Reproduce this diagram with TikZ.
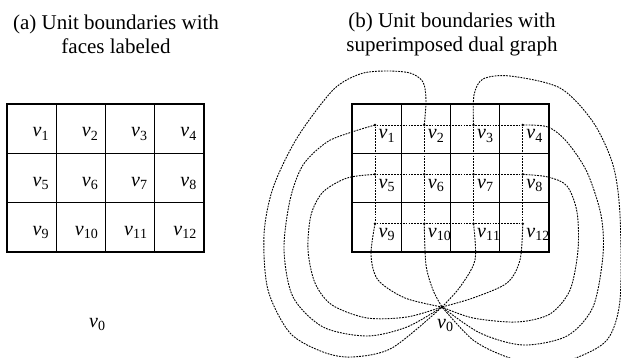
\documentclass[tikz,border=0pt]{standalone}
\usepackage{fontspec}
\setmainfont{Liberation Serif}
\usetikzlibrary{calc}

\newcommand{\vlab}[1]{\textit{v}$_{\mathrm{#1}}$}

\begin{document}
\begin{tikzpicture}[x=1pt,y=-1pt]

    \tikzstyle{cell}=[draw, rectangle, line width=1.4pt, minimum width=49.25pt, minimum height=49.33pt, inner sep=0pt, outer sep=0pt]
    \tikzstyle{lab}=[inner sep=0pt, font=\fontsize{20}{24}\selectfont]
    \tikzstyle{title}=[align=center, inner sep=0pt, font=\fontsize{21}{24}\selectfont]
    \tikzstyle{dual}=[line width=0.9pt, dash pattern=on 1.8pt off 1.1pt]
    \tikzstyle{dot}=[circle, fill=black, inner sep=0pt, minimum size=2.8pt]

    \useasboundingbox (0,0) rectangle (621,358);

    % Spacing the cells out
    \def \cw {49.25}
    \def \ch {49.33}

    % Titles
    \node at (116,34) [title] (ta) {(a) Unit boundaries with\\faces labeled};
    \node at (452,34) [title] (tb) {(b) Unit boundaries with\\superimposed dual graph};

    % Unit boundaries
    \foreach \r in {0,1,2}
        \foreach \c in {1,...,4} {
            \pgfmathtruncatemacro{\n}{4*\r+\c}
            \node at ({7+(\c-0.5)*\cw}, {104+(\r+0.5)*\ch})   [cell] (a\n) {};
            \node at ({352+(\c-0.5)*\cw}, {104+(\r+0.5)*\ch}) [cell] (b\n) {};
        }

    % Faces and dual vertices
    \foreach \n in {1,...,12} {
        \node at ($(a\n.north east)+(-7,33)$) [lab, anchor=base east] (la\n) {\vlab{\n}};
        \node at ($(b\n.north west)+(23,21)$) [dot] (d\n) {};
        \node at ($(d\n)+(3.5,14)$)           [lab, anchor=base west] (lb\n) {\vlab{\n}};
    }
    \node at (89,327) [lab, anchor=base west] (la0) {\vlab{0}};
    \node at (442,307) [dot, minimum size=3.4pt] (d0) {};
    \node at ($(d0)+(-5,21)$) [lab, anchor=base west] (lb0) {\vlab{0}};

    % Dual edges inside
    \draw[dual] (d1) -- (d2) -- (d3) -- (d4);
    \draw[dual] (d5) -- (d6) -- (d7) -- (d8);
    \draw[dual] (d9) -- (d10) -- (d11) -- (d12);
    \draw[dual] (d1) -- (d5) -- (d9);
    \draw[dual] (d2) -- (d6) -- (d10);
    \draw[dual] (d3) -- (d7) -- (d11);
    \draw[dual] (d4) -- (d8) -- (d12);

    % Dual edges to the outer face
    \draw[dual] plot[smooth] coordinates {(d9) (371,255) (378,280) (405,298) (d0)};
    \draw[dual] plot[smooth] coordinates {(d10) (426,265) (433,290) (d0)};
    \draw[dual] plot[smooth] coordinates {(d11) (475,260) (460,287) (d0)};
    \draw[dual] plot[smooth] coordinates {(d12) (520,260) (507,283) (473,298) (d0)};
    \draw[dual] plot[smooth] coordinates {(d5) (347,178) (323,192) (311,215) (308,250) (315,283) (332,305) (367,318) (407,317) (d0)};
    \draw[dual] plot[smooth] coordinates {(d1) (352,132) (327,142) (303,165) (290,200) (284,250) (293,297) (323,327) (367,336) (407,327) (d0)};
    \draw[dual] plot[smooth] coordinates {(d2) (426,100) (423,82) (410,73) (385,71) (360,74) (333,90) (297,138) (273,188) (264,235) (268,290) (290,333) (323,352) (352,357) (392,348) (d0)};
    \draw[dual] plot[smooth] coordinates {(d8) (548,177) (567,186) (577,212) (578,250) (570,290) (550,314) (517,322) (473,318) (d0)};
    \draw[dual] plot[smooth] coordinates {(d4) (548,127) (567,142) (587,172) (601,215) (603,255) (593,307) (567,336) (523,345) (480,333) (d0)};
    \draw[dual] plot[smooth] coordinates {(d3) (474,95) (483,79) (510,76) (560,88) (593,122) (613,165) (620,215) (620,300) (607,340) (573,359) (540,364) (507,357) (473,340) (d0)};

\end{tikzpicture}
\end{document}
